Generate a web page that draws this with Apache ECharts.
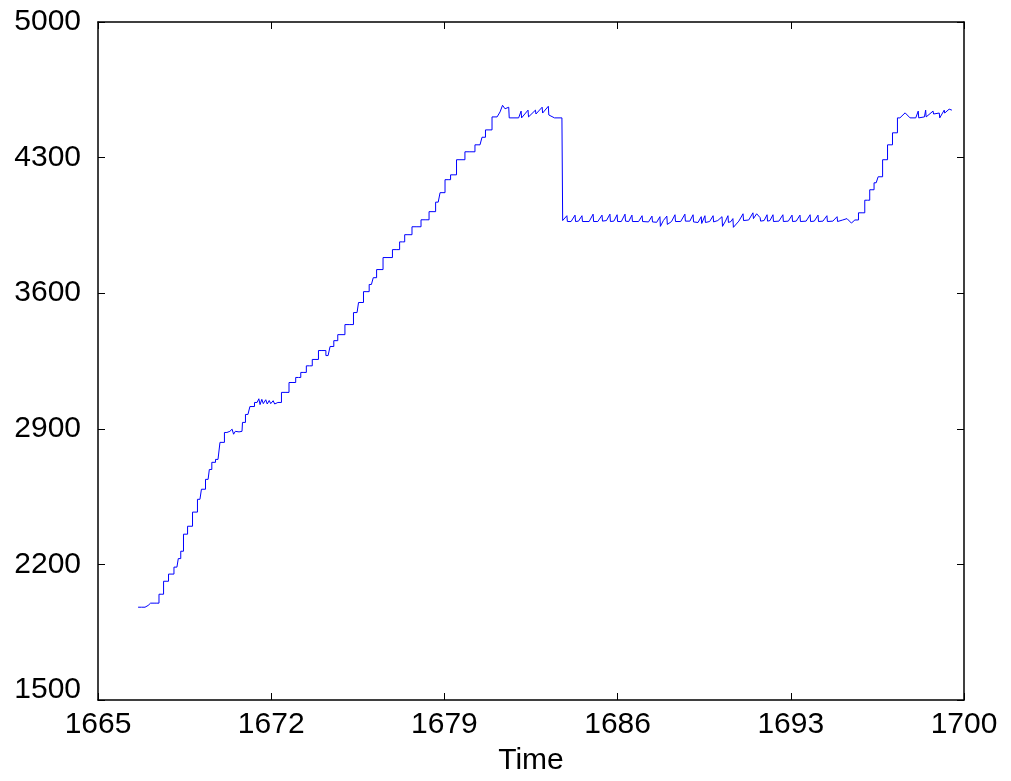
<!DOCTYPE html>
<html>
<head>
<meta charset="utf-8">
<script src="https://cdn.jsdelivr.net/npm/echarts@6/dist/echarts.min.js"></script>
<style>
html,body{margin:0;padding:0;background:#fff}
#chart{width:1011px;height:781px}
</style>
</head>
<body>
<div id="chart"></div>
<script>
const X_TICKS = [1665, 1672, 1679, 1686, 1693, 1700]
const Y_TICKS = [1500, 2200, 2900, 3600, 4300, 5000]

// climbs are drawn as staircases, flat stretches as a plain jagged line
const rise1 = [
    [1666.62,1979],[1666.90,1979],[1666.95,1988],[1667.10,1988],[1667.15,2000],[1667.38,2000],
    [1667.55,2046],[1667.75,2113],[1667.95,2150],[1668.19,2186],[1668.30,2230],[1668.39,2268],
    [1668.52,2356],[1668.72,2397],[1668.92,2470],[1669.12,2536],[1669.24,2588],[1669.45,2639],
    [1669.55,2690],[1669.65,2727],[1669.85,2742],[1670.01,2830],[1670.21,2881]
]
const plateau1 = [
    [1670.33,2887],[1670.42,2898],[1670.48,2872],[1670.55,2887],[1670.70,2884],[1670.82,2887]
]
const rise2 = [
    [1670.86,2933],[1671.06,2974],[1671.22,3015],[1671.43,3036]
]
const plateau2 = [
    [1671.50,3055],[1671.55,3025],[1671.62,3052],[1671.68,3030],[1671.78,3050],[1671.84,3028],
    [1671.92,3046],[1671.98,3030],[1672.08,3045],[1672.14,3028],[1672.27,3036]
]
const rise3 = [
    [1672.56,3088],[1672.88,3139],[1673.10,3165],[1673.29,3191],[1673.55,3225],[1673.77,3258],
    [1674.05,3304],[1674.12,3304],[1674.30,3278],[1674.46,3325],[1674.60,3355],[1674.78,3386],
    [1675.18,3438],[1675.47,3500],[1675.59,3552],[1675.87,3608],[1676.05,3645],[1676.20,3680],
    [1676.32,3722],[1676.72,3784],[1677.08,3825],[1677.30,3865],[1677.49,3902],[1677.89,3943],
    [1678.22,3979],[1678.54,4021],[1678.75,4070],[1678.90,4119],[1679.15,4186],[1679.35,4211],
    [1679.63,4289],[1680.03,4330],[1680.44,4366],[1680.60,4405],[1680.72,4443],[1681.13,4510]
]
const plateau3 = [
    [1681.25,4536],[1681.35,4570],[1681.45,4552],[1681.60,4560],[1681.62,4505],[1682.00,4505],
    [1682.10,4540],[1682.12,4505],[1682.38,4545],[1682.40,4510],[1682.68,4545],[1682.70,4525],
    [1682.95,4560],[1682.97,4530],[1683.20,4565],[1683.22,4520],[1683.45,4505],[1683.75,4505]
]
const plateau4 = [
    [1683.78,3975],
    [1683.82,3970],[1683.95,4000],[1683.97,3970],
    [1684.12,3970],[1684.28,4003],[1684.30,3970],
    [1684.42,3972],[1684.56,4000],[1684.58,3970],
    [1684.85,3970],[1685.01,4008],[1685.03,3970],
    [1685.20,3970],[1685.37,4003],[1685.39,3972],
    [1685.55,3975],[1685.69,4008],[1685.71,3970],
    [1685.85,3972],[1685.98,4005],[1686.00,3970],
    [1686.15,3970],[1686.30,4008],[1686.32,3972],
    [1686.45,3970],[1686.58,4003],[1686.60,3970],
    [1686.85,3970],[1686.99,4000],[1687.01,3970],
    [1687.25,3968],[1687.39,3998],[1687.41,3968],
    [1687.58,3966],[1687.71,3995],[1687.73,3945],[1687.85,3975],
    [1687.99,3998],[1688.01,3955],
    [1688.18,3970],[1688.32,4005],[1688.34,3970],
    [1688.55,3970],[1688.72,4008],[1688.74,3972],
    [1688.92,3972],[1689.05,4005],[1689.07,3968],
    [1689.25,3965],[1689.38,3995],[1689.40,3960],
    [1689.53,4000],[1689.55,3965],
    [1689.72,3970],[1689.86,4000],[1689.88,3968],
    [1690.05,3975],[1690.22,3995],[1690.24,3945],[1690.36,3972],
    [1690.46,4000],[1690.48,3965],[1690.58,3970],[1690.66,3985],[1690.68,3940],
    [1690.90,3972],[1691.07,4010],[1691.09,3975],
    [1691.30,3978],[1691.47,4015],[1691.49,3985],[1691.62,4010],[1691.76,3990],[1691.78,3972],
    [1691.92,3975],[1692.04,4005],[1692.06,3972],
    [1692.16,3975],[1692.28,4005],[1692.30,3970],
    [1692.52,3972],[1692.68,4005],[1692.70,3970],
    [1692.90,3972],[1693.05,4003],[1693.07,3970],
    [1693.22,3972],[1693.37,4003],[1693.39,3970],
    [1693.62,3972],[1693.78,4005],[1693.80,3970],
    [1693.95,3972],[1694.10,4003],[1694.12,3970],
    [1694.30,3972],[1694.46,4000],[1694.48,3970],
    [1694.70,3972],[1694.87,3995],[1694.89,3970],
    [1695.10,3978],[1695.27,3985],[1695.45,3962],[1695.59,3978]
]
const rise4 = [
    [1695.88,4015],[1696.10,4080],[1696.28,4134],[1696.45,4170],[1696.61,4201],[1696.81,4289],
    [1697.01,4366],[1697.21,4428],[1697.41,4505]
]
const plateau5 = [
    [1697.62,4531],[1697.82,4505],[1698.05,4505],[1698.15,4540],[1698.17,4505],[1698.40,4510],
    [1698.45,4545],[1698.47,4510],[1698.75,4540],[1698.77,4525],[1699.00,4530],[1699.02,4505],
    [1699.20,4545],[1699.22,4530],[1699.40,4550],[1699.51,4545]
]

const segments = [
    [rise1, 'middle'], [plateau1, false], [rise2, 'middle'], [plateau2, false],
    [rise3, 'middle'], [plateau3, false], [plateau4, false], [rise4, 'middle'], [plateau5, false]
]

const FONT = '"Liberation Sans", Arial, sans-serif'
const chart = echarts.init(document.getElementById('chart'))

// each segment starts from the last point of the one before, so the curve stays joined
const seriesList = segments.map(([data, step], i) => {
    const prev = i > 0 ? segments[i - 1][0] : null
    const pts = prev ? [prev[prev.length - 1]].concat(data) : data
    return {
        type: 'line',
        data: pts,
        step: step,
        symbol: 'none',
        lineStyle: {color: '#0000ff', width: 1},
        itemStyle: {color: '#0000ff'}
    }
})

const baseAxis = {
    type: 'value',
    axisLine: {show: true, lineStyle: {color: '#000', width: 1.5}},
    axisTick: {show: true, inside: true, length: 7, lineStyle: {color: '#000', width: 1}},
    splitLine: {show: false},
    axisLabel: {color: '#000', fontSize: 30, fontFamily: FONT, formatter: v => String(v)}
}

chart.setOption({
    backgroundColor: '#fff',
    animation: false,
    grid: {left: 98, right: 47, top: 22, bottom: 80},
    xAxis: [
        Object.assign({}, baseAxis, {
            min: X_TICKS[0], max: X_TICKS[X_TICKS.length - 1], interval: 7, position: 'bottom',
            name: 'Time', nameLocation: 'middle', nameGap: 46,
            nameTextStyle: {color: '#000', fontSize: 30, fontFamily: FONT},
            axisLabel: Object.assign({}, baseAxis.axisLabel, {margin: 10})
        }),
        Object.assign({}, baseAxis, {
            min: X_TICKS[0], max: X_TICKS[X_TICKS.length - 1], interval: 7, position: 'top',
            axisLabel: {show: false}
        })
    ],
    yAxis: [
        Object.assign({}, baseAxis, {
            min: Y_TICKS[0], max: Y_TICKS[Y_TICKS.length - 1], interval: 700, position: 'left',
            axisLabel: Object.assign({}, baseAxis.axisLabel, {margin: 17, lineHeight: 20, verticalAlignMinLabel: 'bottom'})
        }),
        Object.assign({}, baseAxis, {
            min: Y_TICKS[0], max: Y_TICKS[Y_TICKS.length - 1], interval: 700, position: 'right',
            axisLabel: {show: false}
        })
    ],
    series: seriesList
})
</script>
</body>
</html>
